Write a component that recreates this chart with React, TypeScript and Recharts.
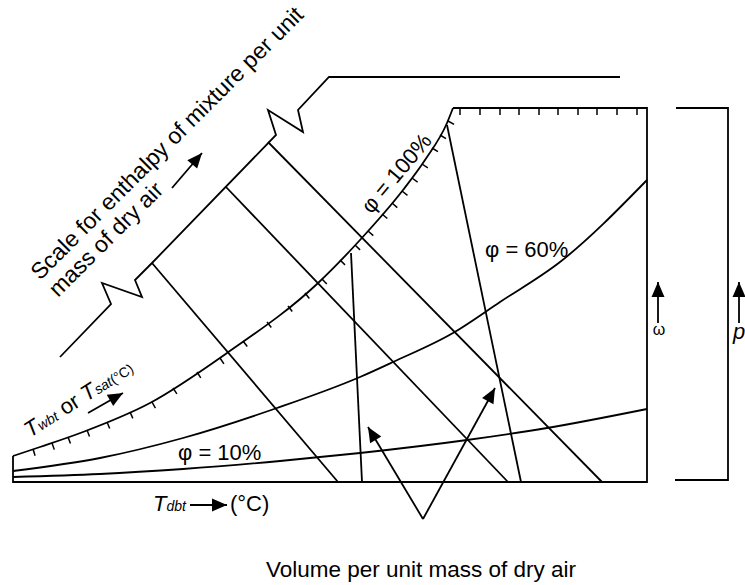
import React from 'react';
import { ComposedChart, Line, Scatter, XAxis, YAxis, Customized } from 'recharts';

const W = 745;
const H = 585;
const FONT = '"Liberation Sans", Arial, sans-serif';

// phi = 100 % (saturation) curve
const satX = [13, 40, 83, 150, 227, 317, 360, 403, 425, 447, 453];
const satY = [456, 447, 432, 403, 353, 284, 240, 190, 160, 123, 108];

// phi = 60 % and phi = 10 % curves
const rh60X = [13, 100, 183, 277, 360, 393, 453, 500, 560, 647];
const rh60Y = [471, 458, 438, 408, 377, 362, 333, 302, 262, 180];
const rh10X = [13, 100, 183, 280, 360, 467, 547, 647];
const rh10Y = [477, 474, 469, 461, 453, 440, 428, 409];

// chart frame (top edge, right edge, T_dbt axis, left edge)
const frameX = [453, 647, 647, 13, 13];
const frameY = [108, 108, 482, 482, 456];

// enthalpy scale line with its two break marks
const scaleX = [60, 111, 102, 142, 135, 152, 276, 268, 303, 298, 329, 620];
const scaleY = [357, 304, 283, 297, 280, 263, 135, 110, 132, 110, 77, 77];

// constant enthalpy lines
const enthTopX = [152, 226, 268];
const enthTopY = [263, 187, 142];
const enthBotX = [338, 508, 602];
const enthBotY = [482, 482, 482];

// constant volume lines
const volTopX = [351, 447];
const volTopY = [253, 125];
const volBotX = [362, 521];
const volBotY = [482, 482];

// pressure bracket
const bracketX = [676, 728, 728, 675];
const bracketY = [108, 108, 480, 480];

// T_wbt ticks on the saturation curve
const satTickX = [33, 52, 68, 87, 107, 130, 152, 173, 197, 220, 243, 267, 288, 305, 322, 340, 355, 368, 382, 392, 402, 412, 422, 432, 440, 448];
const satTickY = [449, 443, 437, 430, 422, 412, 402, 388, 372, 358, 341, 322, 306, 293, 279, 260, 245, 231, 214, 203, 191, 178, 164, 148, 135, 121];

// omega ticks along the top edge
const topTickX = [460, 480, 500, 519, 539, 558, 578, 597, 617, 637];

// arrows: shaft start -> tip
const arrowFromX = [172, 88, 190, 423, 423, 658, 739];
const arrowFromY = [188, 413, 505, 519, 519, 323, 323];
const arrowToX = [202, 123, 227, 368, 495, 658, 739];
const arrowToY = [153, 393, 505, 427, 388, 282, 282];

const pts = (xs: number[], ys: number[]) => xs.map((x, i) => ({ x, y: ys[i] }));

const satTicks = satTickX.map((x, i) => {
  const a = Math.max(0, i - 1);
  const b = Math.min(satTickX.length - 1, i + 1);
  const tx = satTickX[b] - satTickX[a];
  const ty = satTickY[b] - satTickY[a];
  const len = Math.hypot(tx, ty);
  return { x, y: satTickY[i], nx: -ty / len, ny: tx / len };
});
const topTicks = topTickX.map((x) => ({ x, y: 108, nx: 0, ny: 1 }));

const arrowTips = arrowToX.map((x, i) => ({
  x,
  y: arrowToY[i],
  angle: (Math.atan2(arrowToY[i] - arrowFromY[i], x - arrowFromX[i]) * 180) / Math.PI,
}));

const TickMark = (props: any) => {
  const { cx, cy, payload } = props;
  return (
    <line x1={cx} y1={cy} x2={cx + payload.nx * 7} y2={cy + payload.ny * 7} stroke="#000" strokeWidth={1.5} />
  );
};

const ArrowHead = (props: any) => {
  const { cx, cy, payload } = props;
  return (
    <polygon
      points="0,0 -15,-6.5 -15,6.5"
      fill="#000"
      transform={`translate(${cx},${cy}) rotate(${payload.angle})`}
    />
  );
};

const Labels = () => (
  <g fontFamily={FONT} fill="#000">
    <text x={40} y={281} fontSize={23} transform="rotate(-45 40 281)">
      Scale for enthalpy of mixture per unit
    </text>
    <text x={58} y={298} fontSize={23} transform="rotate(-45 58 298)">
      mass of dry air
    </text>
    <text x={402} y={178} fontSize={22} textAnchor="middle" transform="rotate(-50 402 178)">
      φ = 100%
    </text>
    <text x={485} y={257} fontSize={22}>
      φ = 60%
    </text>
    <text x={178} y={460} fontSize={22}>
      φ = 10%
    </text>
    <text x={30} y={438} transform="rotate(-32.5 30 438)">
      <tspan fontSize={22} fontStyle="italic">T</tspan>
      <tspan fontSize={14} fontStyle="italic">wbt</tspan>
      <tspan fontSize={22}> or </tspan>
      <tspan fontSize={22} fontStyle="italic">T</tspan>
      <tspan fontSize={14} fontStyle="italic">sat</tspan>
      <tspan fontSize={14}>(°C)</tspan>
    </text>
    <text x={153} y={511}>
      <tspan fontSize={22} fontStyle="italic">T</tspan>
      <tspan fontSize={14} fontStyle="italic">dbt</tspan>
    </text>
    <text x={230} y={511} fontSize={22}>
      (°C)
    </text>
    <text x={421} y={577} fontSize={22.5} textAnchor="middle">
      Volume per unit mass of dry air
    </text>
    <text x={659} y={335} fontSize={16} textAnchor="middle">
      ω
    </text>
    <text x={733} y={339} fontSize={22} fontStyle="italic">
      p
    </text>
  </g>
);

const lineProps = {
  dataKey: 'y',
  stroke: '#000',
  strokeWidth: 1.8,
  dot: false,
  activeDot: false,
  isAnimationActive: false,
} as const;

export default function App() {
  return (
    <div style={{ position: 'fixed', left: 0, top: 0, width: W, height: H, background: '#fff' }}>
      <ComposedChart width={W} height={H} margin={{ top: 0, right: 0, bottom: 0, left: 0 }}>
        <XAxis type="number" dataKey="x" domain={[0, W]} hide allowDataOverflow />
        <YAxis type="number" dataKey="y" domain={[0, H]} reversed hide allowDataOverflow />

        <Line {...lineProps} data={pts(frameX, frameY)} type="linear" />
        <Line {...lineProps} data={pts(satX, satY)} type="monotone" />
        <Line {...lineProps} data={pts(rh60X, rh60Y)} type="monotone" />
        <Line {...lineProps} data={pts(rh10X, rh10Y)} type="monotone" />
        <Line {...lineProps} data={pts(scaleX, scaleY)} type="linear" />
        <Line {...lineProps} data={pts(bracketX, bracketY)} type="linear" />

        {enthTopX.map((x, i) => (
          <Line
            key={`h${i}`}
            {...lineProps}
            type="linear"
            data={[{ x, y: enthTopY[i] }, { x: enthBotX[i], y: enthBotY[i] }]}
          />
        ))}
        {volTopX.map((x, i) => (
          <Line
            key={`v${i}`}
            {...lineProps}
            type="linear"
            data={[{ x, y: volTopY[i] }, { x: volBotX[i], y: volBotY[i] }]}
          />
        ))}
        {arrowToX.map((x, i) => (
          <Line
            key={`a${i}`}
            {...lineProps}
            type="linear"
            data={[{ x: arrowFromX[i], y: arrowFromY[i] }, { x, y: arrowToY[i] }]}
          />
        ))}

        <Scatter data={satTicks} dataKey="y" shape={TickMark} isAnimationActive={false} />
        <Scatter data={topTicks} dataKey="y" shape={TickMark} isAnimationActive={false} />
        <Scatter data={arrowTips} dataKey="y" shape={ArrowHead} isAnimationActive={false} />

        <Customized component={Labels} />
      </ComposedChart>
    </div>
  );
}
